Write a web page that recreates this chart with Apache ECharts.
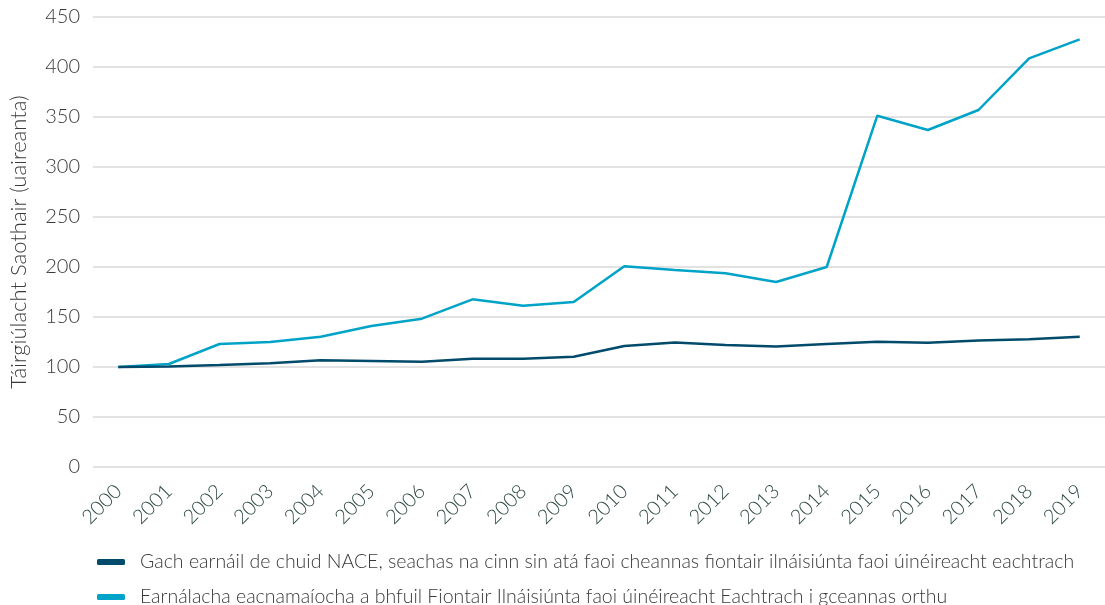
<!DOCTYPE html>
<html><head><meta charset="utf-8">
<script src="https://cdn.jsdelivr.net/npm/echarts@6/dist/echarts.min.js"></script>
<style>html,body{margin:0;padding:0;background:#fff}#c{width:1105px;height:605px}</style>
</head><body><div id="c"></div>
<script>
const years = ['2000','2001','2002','2003','2004','2005','2006','2007','2008','2009','2010','2011','2012','2013','2014','2015','2016','2017','2018','2019'];
const allSectors = [100,100.5,102,103.7,106.7,106,105.3,108.3,108.3,110.3,121,124.5,122,120.5,123,125.3,124.3,126.5,127.8,130.3];
const foreignMNE = [100,103,123,125,130.3,141,148.3,167.7,161.3,165,200.8,197,193.7,185,200,351.3,337,357,408.7,427.7];
const seriesNames = ['Gach earnáil de chuid NACE, seachas na cinn sin atá faoi cheannas fiontair ilnáisiúnta faoi úinéireacht eachtrach','Earnálacha eacnamaíocha a bhfuil Fiontair Ilnáisiúnta faoi úinéireacht Eachtrach i gceannas orthu'];
const yTicks = {min:0,max:450,interval:50};
const yName = 'Táirgiúlacht Saothair (uaireanta)';

const chart = echarts.init(document.getElementById('c'));
const font = 'Lato, "Noto Sans", sans-serif';
const legendText = {fontSize:19.5,color:'#3a3a3a',fontFamily:font,fontWeight:300,padding:[0,0,0,10]};
const legendBase = {orient:'horizontal',left:97,padding:0,icon:'roundRect',itemWidth:28,itemHeight:6,textStyle:legendText};
chart.setOption({
  animation:false,
  textStyle:{fontFamily:font},
  grid:{left:91,right:0,top:17,bottom:138},
  legend:[
    Object.assign({top:552,data:[seriesNames[0]]},legendBase),
    Object.assign({top:587,data:[seriesNames[1]]},legendBase)
  ],
  xAxis:{type:'category',data:years,boundaryGap:true,
    axisLine:{show:false},axisTick:{show:false},
    axisLabel:{rotate:45,fontSize:20,color:'#2f4a42',fontFamily:font,fontWeight:300,margin:21,interval:0}},
  yAxis:{type:'value',min:yTicks.min,max:yTicks.max,interval:yTicks.interval,
    name:yName,nameLocation:'middle',nameGap:63,nameTextStyle:{fontSize:22,color:'#3a3a3a',fontFamily:font,fontWeight:300},
    axisLabel:{fontSize:20,color:'#3a3a3a',fontFamily:font,fontWeight:300,margin:13},
    splitLine:{lineStyle:{color:'#d9d9d9',width:1.5}}},
  series:[
    {name:seriesNames[0],type:'line',data:allSectors,symbol:'none',lineStyle:{color:'#004a6b',width:2.5},itemStyle:{color:'#004a6b'},z:3},
    {name:seriesNames[1],type:'line',data:foreignMNE,symbol:'none',lineStyle:{color:'#00a3c8',width:2.5},itemStyle:{color:'#00a3c8'},z:2}
  ]
});
</script></body></html>
